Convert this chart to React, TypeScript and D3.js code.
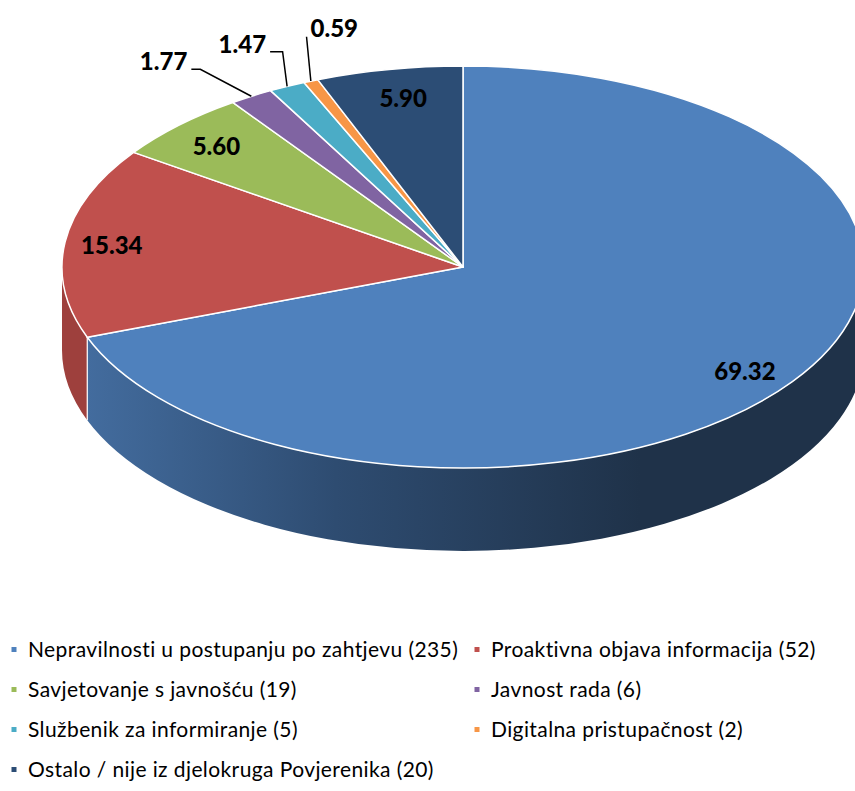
import React from 'react';
import * as d3 from 'd3';

const categories = [
  'Nepravilnosti u postupanju po zahtjevu',
  'Proaktivna objava informacija',
  'Savjetovanje s javnošću',
  'Javnost rada',
  'Službenik za informiranje',
  'Digitalna pristupačnost',
  'Ostalo / nije iz djelokruga Povjerenika',
];
const counts = [235, 52, 19, 6, 5, 2, 20];
const percentLabels = ['69.32', '15.34', '5.60', '1.77', '1.47', '0.59', '5.90'];
const colors = ['#4f81bd', '#c0504d', '#9bbb59', '#8064a2', '#4bacc6', '#f79646', '#2c4d75'];
const sideColors = ['url(#blueSide)', '#9e403d', '#7c9647', '#664f82', '#3c8a9e', '#c67838', '#233e5e'];

// small nudges for the inside labels (px)
const labelNudge: [number, number][] = [[2, 6], [-13, 0], [-5, 1], [0, 0], [0, 0], [0, 0], [3, 1]];

// outside labels with leader lines, offsets from the slice edge point
const outside: Record<number, { elbow: [number, number]; end: [number, number]; anchor: string; tx: number; ty: number }> = {
  3: { elbow: [-51, -27], end: [-60, -27], anchor: 'end', tx: -4, ty: 1 },
  4: { elbow: [-4.5, -34.6], end: [-17, -34.6], anchor: 'end', tx: -4, ty: 1.5 },
  5: { elbow: [-4.3, -44.3], end: [-4.3, -44.3], anchor: 'start', tx: 4, ty: 0 },
};

const W = 855;
const H = 791;
const cx = 463;
const cy = 267;
const rx = 401;
const ry = 201;
const depth = 83;

const pt = (a: number, dy = 0): [number, number] => [cx + rx * Math.sin(a), cy - ry * Math.cos(a) + dy];

export default function App() {
  const arcs = d3.pie<number>().sort(null).startAngle(0).endAngle(2 * Math.PI)(counts);

  const topPath = (a0: number, a1: number) => {
    const p0 = pt(a0);
    const p1 = pt(a1);
    const large = a1 - a0 > Math.PI ? 1 : 0;
    return `M${cx},${cy}L${p0[0]},${p0[1]}A${rx},${ry} 0 ${large} 1 ${p1[0]},${p1[1]}Z`;
  };

  const sidePath = (a0: number, a1: number) => {
    const s = Math.max(a0, Math.PI / 2);
    const e = Math.min(a1, (3 * Math.PI) / 2);
    if (e <= s) return null;
    const p0 = pt(s);
    const p1 = pt(e);
    const q1 = pt(e, depth);
    const q0 = pt(s, depth);
    return `M${p0[0]},${p0[1]}A${rx},${ry} 0 0 1 ${p1[0]},${p1[1]}L${q1[0]},${q1[1]}A${rx},${ry} 0 0 0 ${q0[0]},${q0[1]}Z`;
  };

  const font = 'Lato, "Open Sans", sans-serif';
  const legendX = [14, 477];
  const legendY = d3.scaleLinear().domain([0, 3]).range([650, 770]);

  return (
    <svg width={W} height={H} style={{ position: 'absolute', left: 0, top: 0, background: '#fff' }}>
      <defs>
        <linearGradient id="blueSide" gradientUnits="userSpaceOnUse" x1={87} y1={0} x2={640} y2={0}>
          <stop offset="0%" stopColor="#436c9e" />
          <stop offset="45%" stopColor="#2e4c71" />
          <stop offset="100%" stopColor="#1f3249" />
        </linearGradient>
      </defs>

      {arcs.map((d, i) => {
        const p = sidePath(d.startAngle, d.endAngle);
        return p ? <path key={'s' + i} d={p} fill={sideColors[i]} /> : null;
      })}
      {arcs.map((d, i) => {
        const a = d.startAngle;
        if (a <= Math.PI / 2 || a >= (3 * Math.PI) / 2) return null;
        const p = pt(a);
        return <line key={'e' + i} x1={p[0]} y1={p[1]} x2={p[0]} y2={p[1] + depth} stroke="#fff" strokeWidth={1.2} />;
      })}
      {arcs.map((d, i) => (
        <path key={'t' + i} d={topPath(d.startAngle, d.endAngle)} fill={colors[i]} stroke="#fff" strokeWidth={1.5} strokeLinejoin="round" />
      ))}

      {arcs.map((d, i) => {
        const mid = (d.startAngle + d.endAngle) / 2;
        const o = outside[i];
        if (!o) {
          const x = cx + rx * 0.85 * Math.sin(mid) + labelNudge[i][0];
          const y = cy - ry * 0.86 * Math.cos(mid) + labelNudge[i][1];
          return (
            <text key={'l' + i} x={x} y={y} dy="0.36em" textAnchor="middle" fontFamily={font} fontWeight={900} fontSize={24} fill="#000">
              {percentLabels[i]}
            </text>
          );
        }
        const e = pt(mid);
        const el: [number, number] = [e[0] + o.elbow[0], e[1] + o.elbow[1]];
        const en: [number, number] = [e[0] + o.end[0], e[1] + o.end[1]];
        return (
          <g key={'l' + i}>
            <polyline points={`${e[0]},${e[1]} ${el[0]},${el[1]} ${en[0]},${en[1]}`} fill="none" stroke="#000" strokeWidth={1.5} />
            <text x={en[0] + o.tx} y={en[1] + o.ty} textAnchor={o.anchor as any} fontFamily={font} fontWeight={900} fontSize={24} fill="#000">
              {percentLabels[i]}
            </text>
          </g>
        );
      })}

      {categories.map((c, i) => {
        const col = i % 2;
        const row = Math.floor(i / 2);
        const x = legendX[col];
        const y = legendY(row);
        return (
          <g key={'g' + i}>
            <rect x={x - 2.5} y={y - 3} width={5} height={5} fill={colors[i]} />
            <text x={x + 14} y={y} dy="0.35em" fontFamily={font} fontSize={21} letterSpacing={0.4} fill="#000">
              {`${c} (${counts[i]})`}
            </text>
          </g>
        );
      })}
    </svg>
  );
}
